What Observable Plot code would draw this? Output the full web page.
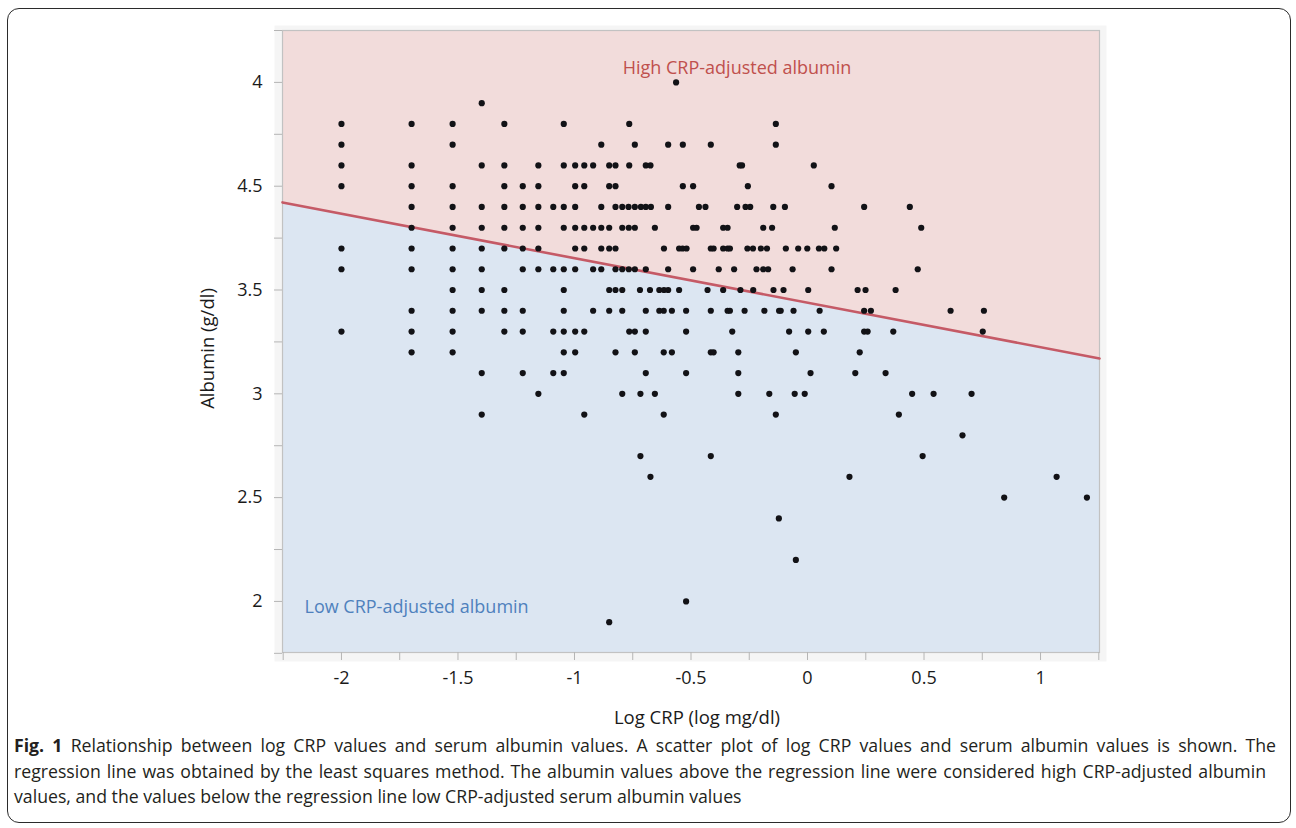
<!DOCTYPE html>
<html><head><meta charset="utf-8">
<script src="https://cdn.jsdelivr.net/npm/d3@7"></script>
<script src="https://cdn.jsdelivr.net/npm/@observablehq/plot@0.6"></script>
<style>
html,body{margin:0;padding:0;background:#fff;}
#wrap{position:relative;width:1296px;height:828px;overflow:hidden;font-family:"Open Sans",sans-serif;}
#box{position:absolute;left:7px;top:8px;width:1284px;height:815px;border:1.6px solid #2b2b2b;border-radius:12px;box-sizing:border-box;}
#chart{position:absolute;left:0;top:0;}
#caption{position:absolute;left:14px;top:733px;font-size:17.7px;line-height:25.5px;color:#231f20;}
#caption .ln{white-space:nowrap;text-align:justify;text-align-last:justify;}
#caption .ln.last{text-align:left;text-align-last:left;}
</style></head>
<body><div id="wrap"><div id="box"></div><div id="chart"></div><div id="caption"></div></div>
<script>
// Albumin levels (g/dl) and the log CRP values of the points on each level
const albuminLevels = [4.5, 4.4, 4.3, 4.2, 4.1, 4.0, 3.9, 3.8, 3.7, 3.6, 3.5, 3.4, 3.3, 3.2, 3.1, 3.0, 2.9, 2.8, 2.7, 2.6, 2.5, 2.4, 2.2, 2.0, 1.9];
const logCrpByLevel = [
  [-0.564],
  [-1.398],
  [-2, -1.699, -1.523, -1.301, -1.046, -0.765, -0.136],
  [-2, -1.523, -0.885, -0.741, -0.598, -0.535, -0.415, -0.136],
  [-2, -1.699, -1.398, -1.301, -1.155, -1.046, -0.997, -0.958, -0.920, -0.851, -0.824, -0.765, -0.694, -0.674, -0.291, -0.281, 0.027],
  [-2, -1.699, -1.523, -1.301, -1.222, -1.155, -0.997, -0.958, -0.851, -0.824, -0.535, -0.491, -0.256, 0.103],
  [-1.699, -1.523, -1.398, -1.301, -1.222, -1.155, -1.091, -1.046, -0.997, -0.885, -0.824, -0.795, -0.768, -0.741, -0.715, -0.694, -0.672, -0.598, -0.466, -0.438, -0.302, -0.266, -0.246, -0.147, -0.097, 0.243, 0.439],
  [-1.699, -1.523, -1.398, -1.301, -1.222, -1.155, -1.046, -0.997, -0.958, -0.920, -0.885, -0.851, -0.795, -0.767, -0.741, -0.655, -0.491, -0.476, -0.362, -0.343, -0.190, -0.152, 0.117, 0.488],
  [-2, -1.699, -1.523, -1.398, -1.301, -1.222, -1.155, -0.997, -0.958, -0.885, -0.851, -0.824, -0.616, -0.551, -0.536, -0.519, -0.415, -0.403, -0.362, -0.343, -0.333, -0.258, -0.234, -0.200, -0.174, -0.093, -0.040, -0.001, 0.049, 0.072, 0.123],
  [-2, -1.699, -1.523, -1.398, -1.222, -1.155, -1.091, -1.046, -0.997, -0.920, -0.885, -0.824, -0.795, -0.767, -0.741, -0.694, -0.598, -0.491, -0.381, -0.315, -0.219, -0.190, -0.169, -0.064, 0.103, 0.473],
  [-1.523, -1.398, -1.301, -1.046, -0.851, -0.824, -0.795, -0.719, -0.676, -0.636, -0.616, -0.598, -0.551, -0.429, -0.362, -0.288, -0.233, -0.146, -0.103, 0.003, 0.215, 0.249, 0.378],
  [-1.699, -1.523, -1.398, -1.301, -1.222, -1.046, -0.920, -0.851, -0.795, -0.694, -0.636, -0.617, -0.582, -0.521, -0.415, -0.343, -0.333, -0.270, -0.185, -0.122, -0.115, -0.060, 0.052, 0.243, 0.272, 0.614, 0.757],
  [-2, -1.699, -1.523, -1.301, -1.222, -1.091, -1.046, -0.997, -0.958, -0.765, -0.741, -0.694, -0.521, -0.323, -0.079, 0.003, 0.070, 0.243, 0.258, 0.368, 0.752],
  [-1.699, -1.523, -1.046, -0.997, -0.824, -0.741, -0.617, -0.582, -0.415, -0.403, -0.297, -0.050, 0.224],
  [-1.398, -1.222, -1.091, -1.046, -0.694, -0.521, -0.297, 0.013, 0.205, 0.335],
  [-1.155, -0.795, -0.717, -0.655, -0.297, -0.164, -0.055, -0.012, 0.449, 0.541, 0.704],
  [-1.398, -0.958, -0.617, -0.136, 0.392],
  [0.665],
  [-0.717, -0.415, 0.494],
  [-0.674, 0.180, 1.069],
  [0.844, 1.199],
  [-0.123],
  [-0.050],
  [-0.521],
  [-0.851]
];

// Regression line: albumin = intercept + slope * logCRP
const regIntercept = 3.439;
const regSlope = -0.2143;

// Axes
const xDomain = [-2.253, 1.253];
const yDomain = [1.754, 4.75];
const xTicks = [-2, -1.5, -1, -0.5, 0, 0.5, 1];
const xTickLabels = ["-2", "-1.5", "-1", "-0.5", "0", "0.5", "1"];
const xMinorTicks = [-2.25, -2, -1.75, -1.5, -1.25, -1, -0.75, -0.5, -0.25, 0, 0.25, 0.5, 0.75, 1, 1.25];
const yTicks = [2, 2.5, 3, 3.5, 4, 4.5];
const yTickLabels = ["2", "2.5", "3", "3.5", "4.5", "4"];
const yMinorTicks = [1.75, 2, 2.25, 2.5, 2.75, 3, 3.25, 3.5, 3.75, 4, 4.25, 4.5, 4.75];

const xTitle = "Log CRP (log mg/dl)";
const yTitle = "Albumin (g/dl)";
const highLabel = "High CRP-adjusted albumin";
const lowLabel = "Low CRP-adjusted albumin";
const captionBold = "Fig. 1";
const captionLines = [
  " Relationship between log CRP values and serum albumin values. A scatter plot of log CRP values and serum albumin values is shown. The",
  "regression line was obtained by the least squares method. The albumin values above the regression line were considered high CRP-adjusted albumin",
  "values, and the values below the regression line low CRP-adjusted serum albumin values"
];
const captionLineWidths = [1262, 1252, null];

const points = albuminLevels.flatMap((a, i) => logCrpByLevel[i].map(x => ({logCRP: x, albumin: a})));
const fit = d => regIntercept + regSlope * d;
const FONT = '"Open Sans", sans-serif';

const chart = Plot.plot({
  width: 1296,
  height: 730,
  marginLeft: 282,
  marginRight: 197,
  marginTop: 30,
  marginBottom: 78,
  x: {domain: xDomain, label: null},
  y: {domain: yDomain, label: null},
  style: {fontFamily: FONT, fontSize: "18px", color: "#1a1a1a", background: "transparent", overflow: "visible"},
  marks: [
    Plot.frame({fill: "#f5f5f5", insetLeft: -8, insetRight: -7, insetTop: -5, insetBottom: -9}),
    Plot.areaY(xDomain, {x: d => d, y1: fit, y2: () => yDomain[1], fill: "#f2dcdb"}),
    Plot.areaY(xDomain, {x: d => d, y1: () => yDomain[0], y2: fit, fill: "#dce6f2"}),
    Plot.frame({stroke: "#c2c2c2", strokeWidth: 1.2}),
    Plot.axisX({ticks: xMinorTicks, tickFormat: () => "", tickSize: 8, stroke: "#b5b5b5"}),
    Plot.axisY({ticks: yMinorTicks, tickFormat: () => "", tickSize: 8, stroke: "#b5b5b5"}),
    Plot.axisX({ticks: xTicks, tickFormat: d => xTickLabels[xTicks.indexOf(d)], tickSize: 0, tickPadding: 19, fontSize: 18, fill: "#1a1a1a"}),
    Plot.axisY({ticks: yTicks, tickFormat: d => yTickLabels[yTicks.indexOf(d)], tickSize: 0, tickPadding: 20, fontSize: 18, fill: "#1a1a1a"}),
    Plot.line(xDomain, {x: d => d, y: fit, stroke: "#c55a66", strokeWidth: 2.6}),
    Plot.dot(points, {x: "logCRP", y: "albumin", r: 3.1, fill: "#121216", stroke: "none"}),
    Plot.text([highLabel], {text: d => d, frameAnchor: "top", textAnchor: "middle", dx: 46, dy: 31, fill: "#c0504d", fontSize: 18}),
    Plot.text([lowLabel], {text: d => d, frameAnchor: "bottom-left", textAnchor: "start", dx: 22, dy: -40, fill: "#4f81bd", fontSize: 18}),
    Plot.text([xTitle], {text: d => d, frameAnchor: "bottom", textAnchor: "middle", dx: 6, dy: 71, fill: "#1a1a1a", fontSize: 18.5}),
    Plot.text([yTitle], {text: d => d, frameAnchor: "left", textAnchor: "middle", rotate: -90, dx: -74, dy: 7, fill: "#1a1a1a", fontSize: 18.5})
  ]
});
document.getElementById("chart").appendChild(chart);

const cap = document.getElementById("caption");
captionLines.forEach((line, i) => {
  const div = document.createElement("div");
  div.className = "ln" + (captionLineWidths[i] == null ? " last" : "");
  if (captionLineWidths[i] != null) div.style.width = captionLineWidths[i] + "px";
  if (i === 0) {
    const b = document.createElement("b");
    b.textContent = captionBold;
    div.appendChild(b);
  }
  div.appendChild(document.createTextNode(line));
  cap.appendChild(div);
});
</script>
</body></html>
